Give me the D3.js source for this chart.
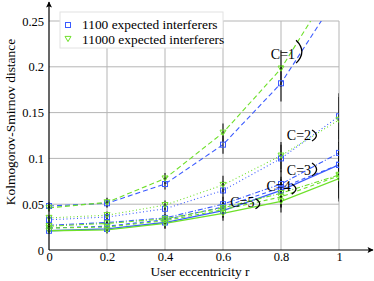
<!DOCTYPE html>
<html>
<head>
<meta charset="utf-8">
<script src="https://cdn.jsdelivr.net/npm/d3@7"></script>
<style>
  body { margin: 0; background: #fff; }
</style>
</head>
<body>
<div class="chart"></div>
<script>
// Kolmogorov-Smirnov distance vs user eccentricity

// data
var eccentricity = [0, 0.2, 0.4, 0.6, 0.8, 1];
var cLabels = ["C=1", "C=2", "C=3", "C=4", "C=5"];

// 1100 expected interferers (blue squares)
var blue1 = [0.048, 0.051, 0.072, 0.115, 0.182, 0.280];
var blue2 = [0.033, 0.036, 0.045, 0.065, 0.100, 0.146];
var blue3 = [0.027, 0.030, 0.035, 0.050, 0.072, 0.106];
var blue4 = [0.024, 0.026, 0.033, 0.047, 0.068, 0.093];
var blue5 = [0.021, 0.023, 0.030, 0.043, 0.065, 0.093];

// 11000 expected interferers (green triangles)
var green1 = [0.046, 0.052, 0.078, 0.128, 0.198, 0.300];
var green2 = [0.035, 0.038, 0.049, 0.071, 0.103, 0.142];
var green3 = [0.026, 0.029, 0.034, 0.046, 0.062, 0.082];
var green4 = [0.024, 0.025, 0.032, 0.044, 0.058, 0.081];
var green5 = [0.021, 0.022, 0.029, 0.040, 0.053, 0.078];

// half-width of the error bars
var err1 = [0.004, 0.005, 0.006, 0.010, 0.020, 0.030];
var err2 = [0.003, 0.004, 0.005, 0.010, 0.015, 0.025];
var err3 = [0.003, 0.004, 0.005, 0.008, 0.015, 0.025];
var err4 = [0.003, 0.004, 0.005, 0.008, 0.012, 0.025];
var err5 = [0.003, 0.004, 0.006, 0.008, 0.012, 0.025];

// where the C=k notes sit (data units) and bracket span
var noteR = [0.765, 0.82, 0.82, 0.75, 0.625];
var noteV = [0.209, 0.120, 0.082, 0.064, 0.047];
var braceTop = [0.229, 0.131, 0.095, 0.072, 0.056];
var braceBottom = [0.204, 0.119, 0.081, 0.061, 0.045];

var xTicks = [0, 0.2, 0.4, 0.6, 0.8, 1];
var yTicks = [0, 0.05, 0.1, 0.15, 0.2, 0.25];

var blueColor = "#3b5bff";
var greenColor = "#6ee02a";
var dashes = ["5,3", "1,2.5", "5,2,1,2", "4,3", null];
var serif = "'Liberation Serif', 'Times New Roman', 'DejaVu Serif', serif";

var series = [];
[blue1, blue2, blue3, blue4, blue5].forEach(function(vals, i) {
    series.push({ c: i, color: blueColor, marker: "square", values: vals,
                  err: [err1, err2, err3, err4, err5][i] });
});
[green1, green2, green3, green4, green5].forEach(function(vals, i) {
    series.push({ c: i, color: greenColor, marker: "triangle", values: vals,
                  err: [err1, err2, err3, err4, err5][i] });
});

var svgWidth = 374;
var svgHeight = 281;
var margin = { top: 21, right: 35, bottom: 31, left: 49 };
var width = 290;
var height = svgHeight - margin.top - margin.bottom;

var svg = d3.select(".chart")
    .append("svg")
    .attr("width", svgWidth)
    .attr("height", svgHeight)
    .attr("font-family", serif);

var chart = svg.append("g")
    .attr("transform", "translate(" + margin.left + "," + margin.top + ")");

var xScale = d3.scaleLinear().domain([0, 1]).range([0, width]);
var yScale = d3.scaleLinear().domain([0, 0.25]).range([height, 0]);

// grid
chart.append("g")
    .selectAll("line.v")
    .data(xTicks.slice(1))
    .enter()
    .append("line")
    .attr("x1", function(d) { return xScale(d); })
    .attr("x2", function(d) { return xScale(d); })
    .attr("y1", 0)
    .attr("y2", height)
    .attr("stroke", "#b5b5b5")
    .attr("stroke-width", 1);

chart.append("g")
    .selectAll("line.h")
    .data(yTicks.slice(1))
    .enter()
    .append("line")
    .attr("x1", 0)
    .attr("x2", width)
    .attr("y1", function(d) { return yScale(d); })
    .attr("y2", function(d) { return yScale(d); })
    .attr("stroke", "#b5b5b5")
    .attr("stroke-width", 1);

// axes (labels only, lines drawn with arrows below)
var bottomAxis = d3.axisBottom(xScale)
    .tickValues(xTicks)
    .tickSize(0)
    .tickPadding(2)
    .tickFormat(d3.format("~g"));
var leftAxis = d3.axisLeft(yScale)
    .tickValues(yTicks)
    .tickSize(0)
    .tickPadding(5)
    .tickFormat(d3.format("~g"));

var gx = chart.append("g")
    .attr("transform", "translate(0," + height + ")")
    .call(bottomAxis);
var gy = chart.append("g").call(leftAxis);
[gx, gy].forEach(function(g) {
    g.attr("font-family", serif).attr("font-size", 12.5);
    g.select(".domain").remove();
    g.selectAll("text").attr("fill", "#000");
});

// clip
chart.append("clipPath")
    .attr("id", "plotclip")
    .append("rect")
    .attr("x", -6)
    .attr("y", 0)
    .attr("width", width + 6)
    .attr("height", height + 6);

var plot = chart.append("g").attr("clip-path", "url(#plotclip)");

var line = d3.line()
    .x(function(d, i) { return xScale(eccentricity[i]); })
    .y(function(d) { return yScale(d); });

series.forEach(function(s) {
    plot.append("path")
        .attr("d", line(s.values))
        .attr("fill", "none")
        .attr("stroke", s.color)
        .attr("stroke-width", s.c == 4 ? 1.3 : 1.1)
        .attr("stroke-dasharray", dashes[s.c]);
});

// error bars
series.forEach(function(s) {
    plot.selectAll(null)
        .data(s.values)
        .enter()
        .append("line")
        .attr("x1", function(d, i) { return xScale(eccentricity[i]); })
        .attr("x2", function(d, i) { return xScale(eccentricity[i]); })
        .attr("y1", function(d, i) { return yScale(d + s.err[i]); })
        .attr("y2", function(d, i) { return yScale(d - s.err[i]); })
        .attr("stroke", "#111")
        .attr("stroke-width", 1.1);
});

// markers
var triangle = "M-3,-2.6L3,-2.6L0,2.6Z";
series.forEach(function(s) {
    var m = plot.selectAll(null)
        .data(s.values)
        .enter();
    if (s.marker == "square") {
        m.append("rect")
            .attr("x", function(d, i) { return xScale(eccentricity[i]) - 2.5; })
            .attr("y", function(d) { return yScale(d) - 2.5; })
            .attr("width", 5)
            .attr("height", 5)
            .attr("fill", "none")
            .attr("stroke", s.color)
            .attr("stroke-width", 1);
    } else {
        m.append("path")
            .attr("d", triangle)
            .attr("transform", function(d, i) {
                return "translate(" + xScale(eccentricity[i]) + "," + yScale(d) + ")";
            })
            .attr("fill", "none")
            .attr("stroke", s.color)
            .attr("stroke-width", 1);
    }
});

// axis lines with arrows
svg.append("defs").append("marker")
    .attr("id", "arrow")
    .attr("viewBox", "0 0 10 10")
    .attr("refX", 9)
    .attr("refY", 5)
    .attr("markerWidth", 8)
    .attr("markerHeight", 6)
    .attr("markerUnits", "userSpaceOnUse")
    .attr("orient", "auto")
    .append("path")
    .attr("d", "M0,0L10,5L0,10L2,5Z")
    .attr("fill", "#000");

chart.append("line")
    .attr("x1", 0).attr("x2", width + 34)
    .attr("y1", height).attr("y2", height)
    .attr("stroke", "#000")
    .attr("stroke-width", 1.2)
    .attr("marker-end", "url(#arrow)");

chart.append("line")
    .attr("x1", 0).attr("x2", 0)
    .attr("y1", height).attr("y2", -19)
    .attr("stroke", "#000")
    .attr("stroke-width", 1.2)
    .attr("marker-end", "url(#arrow)");

// C=k notes with a little bracket
cLabels.forEach(function(lab, i) {
    var tx = xScale(noteR[i]);
    var ty = yScale(noteV[i]);
    var t = chart.append("text")
        .attr("x", tx)
        .attr("y", ty)
        .attr("font-size", 14)
        .text(lab);
    var bx = tx + t.node().getComputedTextLength() + 1;
    var y1 = yScale(braceTop[i]);
    var y2 = yScale(braceBottom[i]);
    var bw = 3 + (y2 - y1) * 0.12;
    chart.append("path")
        .attr("d", "M" + bx + "," + y1 +
            "Q" + (bx + bw * 2) + "," + ((y1 + y2) / 2) + " " + bx + "," + y2)
        .attr("fill", "none")
        .attr("stroke", "#000")
        .attr("stroke-width", 1.3);
});

// legend
var legend = svg.append("g").attr("transform", "translate(60,12)");
legend.append("rect")
    .attr("width", 163)
    .attr("height", 36)
    .attr("fill", "#fff")
    .attr("stroke", "#e2e2e2")
    .attr("stroke-width", 1);
legend.append("rect")
    .attr("x", 5.5).attr("y", 10.5)
    .attr("width", 5).attr("height", 5)
    .attr("fill", "none")
    .attr("stroke", blueColor);
legend.append("path")
    .attr("d", triangle)
    .attr("transform", "translate(8,27)")
    .attr("fill", "none")
    .attr("stroke", greenColor);
legend.append("text")
    .attr("x", 22).attr("y", 17)
    .attr("font-size", 13.4)
    .text("1100 expected interferers");
legend.append("text")
    .attr("x", 22).attr("y", 32)
    .attr("font-size", 13.4)
    .text("11000 expected interferers");

// axis titles
svg.append("text")
    .attr("x", 200)
    .attr("y", 276)
    .attr("text-anchor", "middle")
    .attr("font-size", 13.4)
    .text("User eccentricity r");

svg.append("text")
    .attr("transform", "translate(15,122) rotate(-90)")
    .attr("text-anchor", "middle")
    .attr("font-size", 13.4)
    .text("Kolmogorov-Smirnov distance");
</script>
</body>
</html>
